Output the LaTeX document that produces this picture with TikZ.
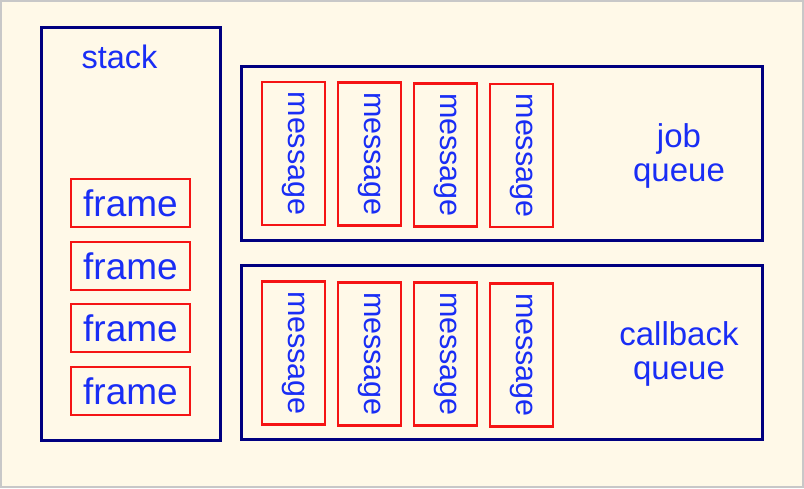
\documentclass[tikz,border=0pt]{standalone}
\usepackage{fontspec}
\setmainfont{Liberation Sans}
\definecolor{bgc}{RGB}{255,249,232}
\definecolor{edgegray}{RGB}{200,200,200}
\definecolor{navy}{RGB}{0,0,128}
\definecolor{redline}{RGB}{245,20,20}
\definecolor{txtblue}{RGB}{25,45,245}
\tikzset{
  bigbox/.style={draw=navy, line width=3pt, inner sep=0pt, outer sep=0pt},
  framebox/.style={draw=redline, line width=2.5pt, inner sep=0pt, minimum width=119pt, minimum height=48pt,
    text=txtblue, font=\fontsize{37}{43}\selectfont},
  msgbox/.style={draw=redline, line width=2.5pt, inner sep=0pt, rotate=-90, minimum width=143pt, minimum height=63pt,
    text=txtblue, font=\fontsize{30.5}{35}\selectfont},
  lbl/.style={text=txtblue, inner sep=0pt, anchor=base, font=\fontsize{32.5}{34}\selectfont},
  qlbl/.style={text=txtblue, inner sep=0pt, anchor=base, align=center, font=\fontsize{33}{34}\selectfont}
}
\begin{document}
\begin{tikzpicture}[x=1pt,y=-1pt]
\useasboundingbox (0,0) rectangle (804,488);
\fill[bgc] (0,0) rectangle (804,488);
\draw[edgegray, line width=2pt] (1,1) rectangle (803,487);
% containers
\node[bigbox, minimum width=179pt, minimum height=413pt] (stack) at (130.5,233.5) {};
\node[bigbox, minimum width=521pt, minimum height=174pt] (job) at (501.5,153) {};
\node[bigbox, minimum width=521pt, minimum height=174pt] (cb) at (501.5,352) {};
% labels
\node[lbl] (stacklbl) at (119.5,68) {stack};
\node[qlbl] (joblbl) at (679,181) {job\\queue};
\node[qlbl] (cblbl) at (679,379) {callback\\queue};
% frames
\node[framebox] (f1) at (130.5,203) {frame};
\node[framebox] (f2) at (130.5,266) {frame};
\node[framebox] (f3) at (130.5,328) {frame};
\node[framebox] (f4) at (130.5,391) {frame};
% job messages
\node[msgbox] (jm1) at (293.5,153.5) {message};
\node[msgbox] (jm2) at (369.5,154) {message};
\node[msgbox] (jm3) at (445.5,155) {message};
\node[msgbox] (jm4) at (521.5,155.5) {message};
% callback messages
\node[msgbox] (cm1) at (293.5,353) {message};
\node[msgbox] (cm2) at (369.5,354) {message};
\node[msgbox] (cm3) at (445.5,354) {message};
\node[msgbox] (cm4) at (521.5,355) {message};
\end{tikzpicture}
\end{document}
